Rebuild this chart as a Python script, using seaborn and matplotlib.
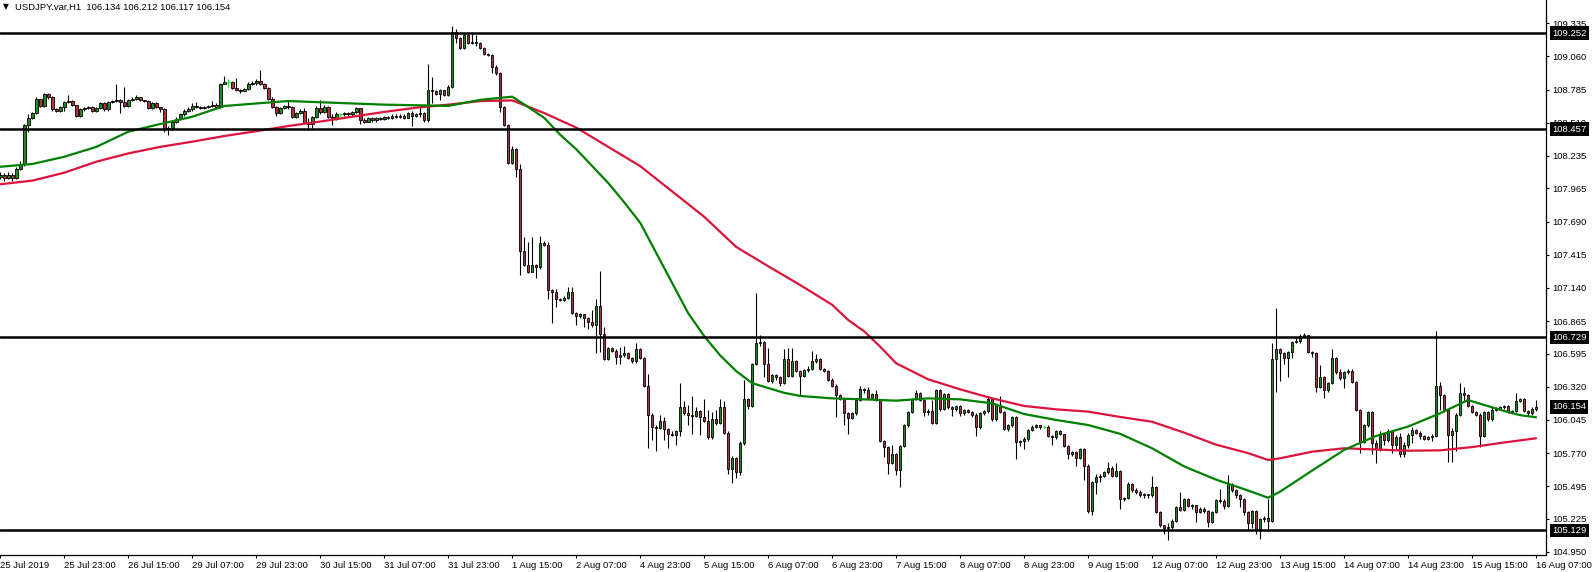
import numpy as np
import pandas as pd
import matplotlib
matplotlib.use("Agg")
import matplotlib.pyplot as plt
import matplotlib.transforms as mtransforms
import seaborn as sns

# ---- data: USDJPY H1 candles (close/high/low), open = previous close ----
first_open = 108.06
closes = [
    108.08, 108.05, 108.08, 108.05, 108.13, 108.17, 108.49, 108.55, 108.59, 108.71, 108.65, 108.75, 108.72, 108.62, 108.61, 108.64,
    108.68, 108.69, 108.66, 108.57, 108.62, 108.63, 108.64, 108.61, 108.63, 108.67, 108.62, 108.68, 108.69, 108.70, 108.68, 108.65,
    108.70, 108.71, 108.72, 108.70, 108.69, 108.63, 108.67, 108.64, 108.62, 108.46, 108.47, 108.52, 108.54, 108.58, 108.61, 108.62,
    108.65, 108.64, 108.63, 108.64, 108.65, 108.66, 108.64, 108.83, 108.85, 108.85, 108.80, 108.78, 108.77, 108.79, 108.83, 108.84,
    108.86, 108.83, 108.80, 108.71, 108.64, 108.59, 108.63, 108.65, 108.64, 108.56, 108.59, 108.61, 108.51, 108.50, 108.56, 108.63,
    108.60, 108.64, 108.56, 108.54, 108.58, 108.58, 108.59, 108.58, 108.60, 108.63, 108.53, 108.52, 108.55, 108.53, 108.55, 108.54,
    108.56, 108.55, 108.57, 108.56, 108.57, 108.55, 108.59, 108.57, 108.58, 108.59, 108.53, 108.78, 108.77, 108.75, 108.78, 108.74,
    108.81, 109.26, 109.21, 109.13, 109.24, 109.17, 109.18, 109.17, 109.13, 109.08, 109.07, 108.97, 108.92, 108.64, 108.49, 108.18,
    108.29, 108.13, 107.45, 107.33, 107.27, 107.33, 107.31, 107.51, 107.50, 107.12, 107.11, 107.05, 107.04, 107.06, 107.11, 106.93,
    106.91, 106.92, 106.89, 106.86, 106.83, 106.99, 106.76, 106.55, 106.64, 106.62, 106.57, 106.58, 106.60, 106.56, 106.53, 106.63,
    106.56, 106.33, 106.09, 105.99, 105.98, 106.04, 105.97, 105.93, 105.92, 105.95, 106.15, 106.10, 106.09, 106.08, 106.12, 106.07,
    106.04, 105.90, 106.05, 106.02, 106.15, 105.94, 105.64, 105.73, 105.61, 105.85, 106.22, 106.16, 106.51, 106.68, 106.69, 106.51,
    106.37, 106.42, 106.40, 106.35, 106.55, 106.41, 106.53, 106.45, 106.41, 106.46, 106.47, 106.53, 106.55, 106.47, 106.45, 106.38,
    106.33, 106.25, 106.22, 106.10, 106.06, 106.10, 106.21, 106.30, 106.29, 106.23, 106.26, 106.21, 105.87, 105.82, 105.69, 105.76,
    105.63, 105.83, 106.00, 106.11, 106.22, 106.27, 106.21, 106.11, 106.12, 106.02, 106.29, 106.14, 106.26, 106.15, 106.14, 106.16,
    106.10, 106.13, 106.11, 106.09, 105.99, 106.10, 106.12, 106.22, 106.05, 106.17, 106.11, 105.97, 106.00, 106.07, 105.86, 105.87,
    105.89, 105.96, 105.99, 106.00, 105.99, 105.99, 105.91, 105.90, 105.95, 105.93, 105.83, 105.76, 105.78, 105.73, 105.80, 105.66,
    105.29, 105.53, 105.57, 105.58, 105.61, 105.65, 105.58, 105.62, 105.39, 105.40, 105.51, 105.46, 105.45, 105.42, 105.43, 105.42,
    105.49, 105.28, 105.17, 105.15, 105.16, 105.21, 105.32, 105.30, 105.39, 105.33, 105.34, 105.28, 105.31, 105.29, 105.20, 105.28,
    105.38, 105.37, 105.33, 105.51, 105.46, 105.42, 105.39, 105.28, 105.19, 105.29, 105.13, 105.22, 105.23, 105.21, 106.55, 106.63,
    106.60, 106.56, 106.61, 106.69, 106.70, 106.74, 106.75, 106.61, 106.60, 106.32, 106.40, 106.29, 106.35, 106.56, 106.44, 106.39,
    106.44, 106.45, 106.36, 106.13, 105.86, 106.00, 106.11, 105.85, 105.80, 105.93, 105.88, 105.95, 105.84, 105.90, 105.76, 105.84,
    105.92, 105.96, 105.94, 105.91, 105.89, 105.90, 105.91, 106.33, 106.25, 106.13, 105.92, 105.95, 106.09, 106.27, 106.25, 106.16,
    106.11, 106.09, 105.91, 106.11, 106.05, 106.13, 106.14, 106.15, 106.16, 106.11, 106.12, 106.20, 106.22, 106.12, 106.10, 106.134,
    106.154,
]
highs = [
    108.10, 108.09, 108.10, 108.09, 108.14, 108.19, 108.50, 108.58, 108.60, 108.72, 108.71, 108.76, 108.76, 108.73, 108.63, 108.65,
    108.69, 108.74, 108.70, 108.66, 108.63, 108.64, 108.65, 108.65, 108.64, 108.68, 108.68, 108.69, 108.70, 108.83, 108.71, 108.81,
    108.71, 108.72, 108.74, 108.72, 108.70, 108.70, 108.68, 108.68, 108.64, 108.63, 108.48, 108.53, 108.56, 108.59, 108.62, 108.64,
    108.67, 108.68, 108.65, 108.65, 108.66, 108.69, 108.67, 108.84, 108.90, 108.87, 108.86, 108.88, 108.79, 108.80, 108.85, 108.86,
    108.87, 108.95, 108.84, 108.81, 108.72, 108.65, 108.64, 108.66, 108.70, 108.65, 108.60, 108.62, 108.63, 108.55, 108.57, 108.65,
    108.70, 108.66, 108.65, 108.58, 108.60, 108.59, 108.60, 108.60, 108.61, 108.64, 108.63, 108.55, 108.56, 108.56, 108.56, 108.56,
    108.57, 108.57, 108.58, 108.58, 108.58, 108.58, 108.60, 108.61, 108.59, 108.65, 108.60, 109.00, 108.89, 108.78, 108.79, 108.78,
    108.82, 109.31, 109.29, 109.22, 109.25, 109.24, 109.25, 109.24, 109.18, 109.14, 109.09, 109.08, 108.99, 108.93, 108.65, 108.50,
    108.32, 108.30, 108.17, 107.56, 107.52, 107.56, 107.34, 107.57, 107.53, 107.52, 107.13, 107.13, 107.06, 107.07, 107.15, 107.15,
    106.94, 106.93, 106.92, 106.90, 106.96, 107.05, 107.28, 106.82, 106.65, 106.65, 106.63, 106.65, 106.66, 106.61, 106.57, 106.68,
    106.64, 106.57, 106.43, 106.10, 106.00, 106.09, 106.07, 105.98, 105.95, 105.96, 106.35, 106.20, 106.17, 106.24, 106.15, 106.13,
    106.22, 106.13, 106.11, 106.13, 106.22, 106.20, 105.95, 105.75, 105.74, 105.87, 106.38, 106.23, 106.52, 107.10, 106.75, 106.70,
    106.64, 106.43, 106.43, 106.41, 106.63, 106.64, 106.64, 106.54, 106.46, 106.47, 106.49, 106.62, 106.59, 106.56, 106.48, 106.46,
    106.39, 106.34, 106.26, 106.23, 106.11, 106.11, 106.22, 106.33, 106.31, 106.32, 106.27, 106.29, 106.22, 105.88, 105.83, 105.84,
    105.77, 105.84, 106.01, 106.12, 106.23, 106.29, 106.28, 106.22, 106.14, 106.21, 106.30, 106.30, 106.27, 106.27, 106.16, 106.17,
    106.17, 106.14, 106.14, 106.12, 106.10, 106.11, 106.13, 106.24, 106.23, 106.18, 106.24, 106.12, 106.01, 106.08, 106.08, 105.88,
    105.90, 105.97, 106.00, 106.01, 106.00, 106.00, 106.00, 105.92, 105.96, 105.96, 105.93, 105.84, 105.79, 105.79, 105.81, 105.81,
    105.68, 105.54, 105.60, 105.60, 105.62, 105.70, 105.66, 105.69, 105.63, 105.41, 105.53, 105.52, 105.48, 105.46, 105.44, 105.43,
    105.58, 105.50, 105.29, 105.17, 105.19, 105.22, 105.33, 105.45, 105.40, 105.40, 105.35, 105.34, 105.32, 105.32, 105.30, 105.29,
    105.39, 105.47, 105.39, 105.59, 105.52, 105.47, 105.43, 105.40, 105.29, 105.30, 105.30, 105.23, 105.25, 105.39, 106.68, 106.97,
    106.64, 106.61, 106.62, 106.70, 106.73, 106.76, 106.77, 106.75, 106.62, 106.61, 106.50, 106.41, 106.36, 106.63, 106.57, 106.47,
    106.45, 106.47, 106.47, 106.37, 106.14, 106.01, 106.12, 106.12, 105.88, 105.95, 105.94, 105.97, 105.96, 105.92, 105.94, 105.86,
    105.94, 105.99, 105.97, 105.95, 105.92, 105.91, 105.93, 106.78, 106.36, 106.26, 106.14, 105.98, 106.10, 106.35, 106.32, 106.26,
    106.17, 106.12, 106.10, 106.12, 106.12, 106.15, 106.15, 106.16, 106.17, 106.17, 106.13, 106.27, 106.23, 106.23, 106.13, 106.15,
    106.212,
]
lows = [
    108.04, 108.03, 108.04, 108.03, 108.04, 108.12, 108.15, 108.43, 108.54, 108.58, 108.64, 108.64, 108.71, 108.61, 108.60, 108.60,
    108.61, 108.67, 108.65, 108.56, 108.56, 108.61, 108.62, 108.60, 108.60, 108.62, 108.61, 108.61, 108.67, 108.68, 108.59, 108.64,
    108.64, 108.69, 108.70, 108.69, 108.68, 108.62, 108.62, 108.63, 108.60, 108.43, 108.41, 108.45, 108.51, 108.53, 108.57, 108.60,
    108.61, 108.63, 108.62, 108.62, 108.63, 108.64, 108.63, 108.63, 108.83, 108.81, 108.79, 108.77, 108.76, 108.77, 108.78, 108.82,
    108.82, 108.82, 108.79, 108.70, 108.63, 108.57, 108.58, 108.62, 108.62, 108.55, 108.55, 108.58, 108.50, 108.45, 108.47, 108.55,
    108.58, 108.59, 108.55, 108.49, 108.53, 108.56, 108.57, 108.57, 108.57, 108.59, 108.50, 108.51, 108.52, 108.52, 108.52, 108.53,
    108.53, 108.54, 108.54, 108.55, 108.55, 108.54, 108.55, 108.48, 108.56, 108.56, 108.52, 108.52, 108.67, 108.74, 108.70, 108.73,
    108.73, 108.80, 109.17, 109.12, 109.12, 109.16, 109.16, 109.15, 109.12, 109.07, 109.06, 108.92, 108.91, 108.60, 108.48, 108.17,
    108.17, 108.06, 107.25, 107.32, 107.26, 107.27, 107.22, 107.30, 107.49, 107.05, 106.85, 106.98, 107.03, 107.03, 107.05, 106.92,
    106.83, 106.89, 106.82, 106.80, 106.82, 106.60, 106.61, 106.54, 106.54, 106.61, 106.51, 106.51, 106.57, 106.55, 106.52, 106.52,
    106.55, 106.32, 105.81, 105.88, 105.79, 105.97, 105.88, 105.81, 105.91, 105.84, 105.91, 106.09, 106.00, 105.93, 106.07, 105.92,
    106.03, 105.89, 105.89, 106.00, 106.01, 105.93, 105.60, 105.52, 105.56, 105.59, 105.84, 106.14, 106.15, 106.50, 106.66, 106.40,
    106.36, 106.35, 106.38, 106.33, 106.34, 106.40, 106.40, 106.44, 106.25, 106.40, 106.44, 106.46, 106.52, 106.46, 106.44, 106.37,
    106.32, 106.07, 106.21, 106.00, 105.93, 106.05, 106.09, 106.20, 106.27, 106.22, 106.22, 106.20, 105.86, 105.74, 105.60, 105.68,
    105.59, 105.49, 105.82, 105.99, 106.10, 106.21, 106.20, 106.08, 106.09, 106.01, 106.01, 106.12, 106.13, 106.14, 106.08, 106.12,
    106.08, 106.09, 106.10, 106.07, 105.91, 105.97, 106.09, 106.10, 106.04, 106.04, 106.10, 105.96, 105.95, 105.99, 105.72, 105.83,
    105.80, 105.87, 105.95, 105.98, 105.97, 105.98, 105.90, 105.84, 105.89, 105.92, 105.82, 105.72, 105.75, 105.66, 105.72, 105.55,
    105.27, 105.26, 105.43, 105.53, 105.57, 105.60, 105.57, 105.57, 105.31, 105.37, 105.39, 105.45, 105.43, 105.41, 105.40, 105.40,
    105.41, 105.27, 105.16, 105.10, 105.05, 105.14, 105.20, 105.29, 105.29, 105.32, 105.31, 105.20, 105.27, 105.27, 105.16, 105.19,
    105.27, 105.36, 105.31, 105.32, 105.45, 105.40, 105.32, 105.26, 105.13, 105.15, 105.10, 105.06, 105.20, 105.12, 105.20, 106.28,
    106.37, 106.51, 106.40, 106.56, 106.68, 106.68, 106.73, 106.60, 106.57, 106.28, 106.31, 106.23, 106.28, 106.34, 106.43, 106.38,
    106.31, 106.43, 106.35, 106.12, 105.77, 105.85, 105.99, 105.76, 105.69, 105.79, 105.84, 105.86, 105.77, 105.80, 105.74, 105.74,
    105.81, 105.85, 105.93, 105.89, 105.88, 105.88, 105.87, 105.90, 106.13, 106.12, 105.70, 105.70, 105.79, 106.08, 106.20, 106.15,
    106.10, 106.08, 105.82, 105.90, 106.04, 106.04, 106.12, 106.13, 106.14, 106.10, 106.10, 106.11, 106.19, 106.11, 106.09, 106.09,
    106.117,
]

green_ma_bars = [0, 8, 16, 24, 32, 40, 48, 56, 64, 72, 80, 88, 96, 104, 112, 120, 128, 132, 136, 140,
                 144, 148, 152, 156, 160, 164, 168, 172, 176, 180, 184, 188, 192, 196, 200, 208, 216, 224,
                 232, 240, 248, 256, 264, 272, 280, 288, 296, 304, 312, 317, 320, 328, 336, 344, 352, 360,
                 367, 372, 376, 380, 384]
green_ma = [108.145, 108.168, 108.228, 108.31, 108.436, 108.50, 108.56, 108.649, 108.67, 108.69, 108.68,
            108.67, 108.66, 108.655, 108.65, 108.70, 108.726, 108.64, 108.55, 108.41, 108.29, 108.15,
            108.01, 107.85, 107.68, 107.43, 107.18, 106.93, 106.74, 106.58, 106.45, 106.35, 106.31, 106.27,
            106.244, 106.224, 106.216, 106.205, 106.224, 106.216, 106.183, 106.094, 106.045, 106.003,
            105.93, 105.81, 105.66, 105.55, 105.46, 105.40, 105.45, 105.625, 105.796, 105.912, 105.99,
            106.10, 106.21, 106.16, 106.12, 106.085, 106.067]
red_ma_bars = [0, 8, 16, 24, 32, 40, 48, 56, 64, 72, 80, 88, 96, 104, 112, 120, 128, 132, 136, 144, 152,
               160, 168, 176, 184, 192, 200, 208, 212, 216, 220, 224, 232, 240, 248, 256, 264, 272, 280,
               288, 296, 304, 312, 317, 320, 328, 336, 344, 352, 360, 368, 376, 384]
red_ma = [108.00, 108.03, 108.096, 108.187, 108.256, 108.31, 108.353, 108.40, 108.44, 108.483, 108.52,
          108.56, 108.60, 108.635, 108.66, 108.69, 108.695, 108.643, 108.59, 108.47, 108.31, 108.15,
          107.94, 107.73, 107.48, 107.32, 107.164, 107.00, 106.874, 106.78, 106.653, 106.515, 106.382,
          106.299, 106.224, 106.161, 106.133, 106.114, 106.07, 106.03, 105.94, 105.84, 105.77, 105.713,
          105.727, 105.782, 105.81, 105.80, 105.79, 105.793, 105.82, 105.858, 105.893]

levels = [109.252, 108.457, 106.729, 105.129]
last_price = 106.154

price_ticks = [109.335, 109.060, 108.785, 108.510, 108.235, 107.965, 107.690, 107.415, 107.140,
               106.865, 106.595, 106.320, 106.045, 105.770, 105.495, 105.225, 104.950]
date_labels = ["25 Jul 2019", "25 Jul 23:00", "26 Jul 15:00", "29 Jul 07:00", "29 Jul 23:00",
               "30 Jul 15:00", "31 Jul 07:00", "31 Jul 23:00", "1 Aug 15:00", "2 Aug 07:00",
               "4 Aug 23:00", "5 Aug 15:00", "6 Aug 07:00", "6 Aug 23:00", "7 Aug 15:00",
               "8 Aug 07:00", "8 Aug 23:00", "9 Aug 15:00", "12 Aug 07:00", "12 Aug 23:00",
               "13 Aug 15:00", "14 Aug 07:00", "14 Aug 23:00", "15 Aug 15:00", "16 Aug 07:00"]

df = pd.DataFrame({"close": closes, "high": highs, "low": lows})
df["open"] = [first_open] + closes[:-1]
df["bar"] = np.arange(len(df))
df["doji"] = (df["close"] - df["open"]).abs() < 1e-9
df["bull"] = df["close"] > df["open"]

sns.set_style("white")
plt.rcParams["font.family"] = ["Liberation Sans", "DejaVu Sans"]

W, H = 1592, 572
fig = plt.figure(figsize=(W / 100, H / 100), dpi=100)
ax = fig.add_axes([0, 17 / H, 1546 / W, 555 / H])
fig.patch.set_facecolor("white")
ax.set_facecolor("white")

# wicks
normal = df[~df["doji"]]
ax.vlines(normal["bar"], normal["low"], normal["high"], color="black", linewidth=0.8, zorder=2)
# bodies
bull_fill = "#1f8a1f"
bear_fill = "#b5323c"
ax.bar(normal["bar"], (normal["close"] - normal["open"]).abs(),
       bottom=normal[["open", "close"]].min(axis=1), width=0.6,
       color=np.where(normal["bull"], bull_fill, bear_fill),
       edgecolor="black", linewidth=0.6, zorder=3)
# doji crosses
dj = df[df["doji"]]
ax.vlines(dj["bar"], dj["low"], dj["high"], color="#00ff00", linewidth=0.8, zorder=3)
ax.hlines(dj["close"], dj["bar"] - 0.4, dj["bar"] + 0.4, color="#00ff00", linewidth=0.8, zorder=3)

# moving averages
sns.lineplot(x=red_ma_bars, y=red_ma, color="#dc143c", linewidth=1.6, ax=ax, zorder=4)
sns.lineplot(x=green_ma_bars, y=green_ma, color="#008000", linewidth=1.6, ax=ax, zorder=4)

# horizontal levels
for lv in levels:
    ax.axhline(lv, color="black", linewidth=1.8, zorder=5)

ax.set_xlim(-0.1, 386.5)
ax.set_ylim(104.925, 109.528)

ax.yaxis.tick_right()
ax.set_yticks(price_ticks)
ax.set_yticklabels([f"{t:.3f}" for t in price_ticks])
ax.set_xticks(np.arange(0, 385, 16))
ax.set_xticklabels(date_labels)
for lab in ax.get_xticklabels():
    lab.set_ha("left")
ax.tick_params(axis="both", direction="out", length=2.5, width=0.8, color="black",
               labelsize=6.8, labelcolor="black", pad=1.8)
ax.tick_params(axis="y", right=True, left=False)
ax.tick_params(axis="x", bottom=True)
for side in ["left", "top"]:
    ax.spines[side].set_visible(False)
for side in ["right", "bottom"]:
    ax.spines[side].set_color("black")
    ax.spines[side].set_linewidth(0.9)
ax.set_xlabel("")
ax.set_ylabel("")
ax.grid(False)

# price boxes on the right scale
blend = mtransforms.blended_transform_factory(ax.transAxes, ax.transData)
for p in levels + [last_price]:
    ax.text(1 + 6 / 1546, p, f"{p:.3f}", transform=blend, ha="left", va="center",
            color="white", fontsize=6.8, clip_on=False, zorder=10,
            bbox=dict(boxstyle="square,pad=0.25", fc="black", ec="none"))

# header
fig.text(3 / W, 1 - 7 / H, "\u25bc", fontsize=5.5, va="center", ha="left", color="black",
         family=["DejaVu Sans"])
fig.text(15 / W, 1 - 7 / H, "USDJPY.var,H1  106.134 106.212 106.117 106.154",
         fontsize=6.8, va="center", ha="left", color="black")

fig.savefig("out.png", dpi=100, facecolor="white")
